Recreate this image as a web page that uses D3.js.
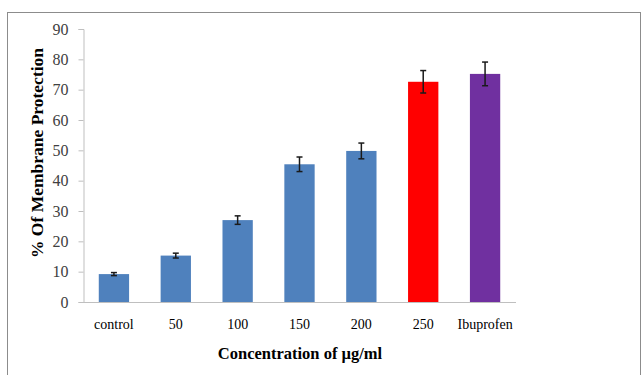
<!DOCTYPE html>
<html lang="en">
<head>
    <meta charset="UTF-8">
    <title>Membrane Protection</title>
    <style>
        body { margin: 0; background: #fff; }
        text { font-family: "Liberation Serif", "Times New Roman", serif; }
        .tick text { fill: #404040; }
    </style>
    <script src="https://d3js.org/d3.v7.min.js"></script>
</head>
<body>
    <svg width="644" height="375"></svg>
    <script>
        const categories = ['control', '50', '100', '150', '200', '250', 'Ibuprofen'];
        const values = [9.2, 15.3, 27.0, 45.4, 49.8, 72.6, 75.2];
        const errors = [0.5, 0.8, 1.4, 2.4, 2.6, 3.7, 3.9];
        const colors = ['#4F81BD', '#4F81BD', '#4F81BD', '#4F81BD', '#4F81BD', '#FF0000', '#7030A0'];
        const yTicks = [0, 10, 20, 30, 40, 50, 60, 70, 80, 90];

        const svg = d3.select("svg");

        // outer frame
        svg.append("rect")
            .attr("x", 7.5).attr("y", 12.5)
            .attr("width", 633).attr("height", 380)
            .attr("fill", "none")
            .attr("stroke", "#8c8c8c")
            .attr("stroke-width", 1);

        const x = d3.scaleBand()
            .domain(categories)
            .range([83, 516])
            .paddingInner(0.51)
            .paddingOuter(0.255);

        const y = d3.scaleLinear()
            .domain([0, 90])
            .range([302, 29]);

        // y axis
        const yAxis = svg.append("g")
            .attr("transform", "translate(83.5,0)")
            .call(d3.axisLeft(y).tickValues(yTicks).tickSize(5).tickPadding(10));
        yAxis.select(".domain").attr("stroke", "#bfbfbf");
        yAxis.selectAll(".tick line").attr("stroke", "#bfbfbf");
        yAxis.selectAll(".tick text").attr("font-size", 16);

        // x axis line
        svg.append("line")
            .attr("x1", 83).attr("x2", 516)
            .attr("y1", 302.5).attr("y2", 302.5)
            .attr("stroke", "#bfbfbf");

        // bars
        svg.selectAll(".bar")
            .data(values)
            .enter()
            .append("rect")
            .attr("class", "bar")
            .attr("x", (d, i) => x(categories[i]))
            .attr("y", d => y(d))
            .attr("width", x.bandwidth())
            .attr("height", d => y(0) - y(d))
            .attr("fill", (d, i) => colors[i]);

        // error bars
        const eb = svg.selectAll(".err")
            .data(values)
            .enter()
            .append("g")
            .attr("class", "err")
            .attr("stroke", "#1a1a1a")
            .attr("stroke-width", 1.5);
        const cx = i => x(categories[i]) + x.bandwidth() / 2;
        eb.append("line")
            .attr("x1", (d, i) => cx(i)).attr("x2", (d, i) => cx(i))
            .attr("y1", (d, i) => y(d + errors[i])).attr("y2", (d, i) => y(d - errors[i]));
        eb.append("line")
            .attr("x1", (d, i) => cx(i) - 3).attr("x2", (d, i) => cx(i) + 3)
            .attr("y1", (d, i) => y(d + errors[i])).attr("y2", (d, i) => y(d + errors[i]));
        eb.append("line")
            .attr("x1", (d, i) => cx(i) - 3).attr("x2", (d, i) => cx(i) + 3)
            .attr("y1", (d, i) => y(d - errors[i])).attr("y2", (d, i) => y(d - errors[i]));

        // category labels
        svg.selectAll(".cat")
            .data(categories)
            .enter()
            .append("text")
            .attr("x", d => x(d) + x.bandwidth() / 2)
            .attr("y", 329)
            .attr("text-anchor", "middle")
            .attr("font-size", 14)
            .attr("fill", "#000")
            .text(d => d);

        // axis titles
        svg.append("text")
            .attr("x", 300).attr("y", 359)
            .attr("text-anchor", "middle")
            .attr("font-size", 16.5)
            .attr("font-weight", "bold")
            .text("Concentration of µg/ml");

        svg.append("text")
            .attr("transform", "translate(43,153) rotate(-90)")
            .attr("text-anchor", "middle")
            .attr("font-size", 17.5)
            .attr("font-weight", "bold")
            .text("% Of Membrane Protection");
    </script>
</body>
</html>
